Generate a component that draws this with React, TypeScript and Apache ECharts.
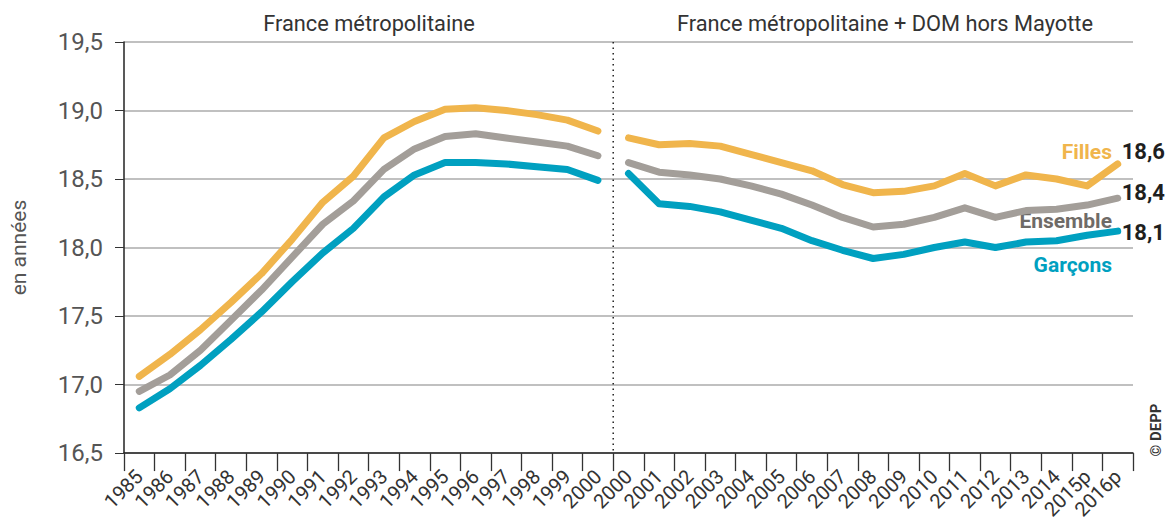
import React, { useEffect, useRef } from "react";
import * as echarts from "echarts";

const yearsMetro = ["1985","1986","1987","1988","1989","1990","1991","1992","1993","1994","1995","1996","1997","1998","1999","2000"];
const yearsDom = ["2000","2001","2002","2003","2004","2005","2006","2007","2008","2009","2010","2011","2012","2013","2014","2015p","2016p"];

const fillesMetro = [17.06,17.22,17.40,17.60,17.81,18.06,18.33,18.52,18.80,18.92,19.01,19.02,19.0,18.97,18.93,18.85];
const ensembleMetro = [16.95,17.07,17.25,17.47,17.69,17.93,18.17,18.34,18.57,18.72,18.81,18.83,18.80,18.77,18.74,18.67];
const garconsMetro = [16.83,16.97,17.14,17.33,17.53,17.75,17.96,18.14,18.37,18.53,18.62,18.62,18.61,18.59,18.57,18.49];

const fillesDom = [18.80,18.75,18.76,18.74,18.68,18.62,18.56,18.46,18.40,18.41,18.45,18.54,18.45,18.53,18.50,18.45,18.61];
const ensembleDom = [18.62,18.55,18.53,18.50,18.45,18.39,18.31,18.22,18.15,18.17,18.22,18.29,18.22,18.27,18.28,18.31,18.36];
const garconsDom = [18.54,18.32,18.30,18.26,18.20,18.14,18.05,17.98,17.92,17.95,18.00,18.04,18.00,18.04,18.05,18.09,18.12];

const yTicks = { min: 16.5, max: 19.5, interval: 0.5 };

const ORANGE = "#F0B54C";
const GRAY = "#A39E99";
const BLUE = "#00A0C0";
const FONT = "Roboto, 'Noto Sans', sans-serif";

const fmt = (v: number) => v.toFixed(1).replace(".", ",");

export default function App() {
  const ref = useRef<HTMLDivElement>(null);
  useEffect(() => {
    document.body.style.margin = "0";
    if (!ref.current) return;
    const chart = echarts.init(ref.current, null, { renderer: "svg" });
    const categories = [...yearsMetro, ...yearsDom];
    const off = yearsMetro.length;
    const mkLine = (name: string, color: string, data: number[], start: number, endLabel?: any) => ({
      name,
      type: "line",
      data: data.map((v, i) => [start + i, v]),
      symbol: "none",
      lineStyle: { color, width: 7, cap: "round", join: "round" },
      itemStyle: { color },
      z: 3,
      endLabel: endLabel
        ? {
            show: true,
            formatter: (p: any) => fmt(p.value[1]),
            color: "#1f1f1f",
            fontWeight: "bold",
            fontSize: 22,
            fontFamily: FONT,
            distance: 4,
            offset: endLabel,
          }
        : undefined,
    });
    chart.setOption({
      animation: false,
      textStyle: { fontFamily: FONT },
      grid: { left: 116, right: 33, top: 42, bottom: 63, containLabel: false },
      xAxis: {
        type: "category",
        data: categories,
        boundaryGap: true,
        axisLine: { lineStyle: { color: "#222", width: 1.5 } },
        axisTick: { show: true, length: 18, interval: 0, lineStyle: { color: "#333", width: 1.3 } },
        axisLabel: { interval: 0, rotate: 45, fontSize: 20, color: "#333", margin: 20, fontFamily: FONT },
        splitLine: { show: false },
      },
      yAxis: {
        type: "value",
        min: yTicks.min,
        max: yTicks.max,
        interval: yTicks.interval,
        name: "en années",
        nameLocation: "middle",
        nameGap: 95,
        nameTextStyle: { fontSize: 21, color: "#555", fontFamily: FONT },
        axisLine: { show: true, lineStyle: { color: "#222", width: 1.5 } },
        axisTick: { show: true, length: 9, lineStyle: { color: "#333" } },
        axisLabel: { fontSize: 24, color: "#555", margin: 21, formatter: (v: number) => fmt(v), fontFamily: FONT },
        splitLine: { show: true, lineStyle: { color: "#ababab", width: 1.5 } },
      },
      series: [
        mkLine("Filles", ORANGE, fillesMetro, 0),
        mkLine("Ensemble", GRAY, ensembleMetro, 0),
        mkLine("Garçons", BLUE, garconsMetro, 0),
        mkLine("Filles", ORANGE, fillesDom, off, [0, -12]),
        mkLine("Ensemble", GRAY, ensembleDom, off, [0, -6]),
        mkLine("Garçons", BLUE, garconsDom, off, [0, 1]),
      ],
    });
    const xa = chart.convertToPixel({ xAxisIndex: 0 }, off - 1) as number;
    const xb = chart.convertToPixel({ xAxisIndex: 0 }, off) as number;
    const sepX = (xa + xb) / 2;
    const yTop = chart.convertToPixel({ yAxisIndex: 0 }, yTicks.max) as number;
    const yBot = chart.convertToPixel({ yAxisIndex: 0 }, yTicks.min) as number;
    chart.setOption({
      graphic: [
        {
          type: "line",
          shape: { x1: sepX, y1: yTop, x2: sepX, y2: yBot },
          style: { stroke: "#222", lineWidth: 1.5, lineDash: [1.5, 4] },
          z: 10,
        },
        { type: "text", x: 369, y: 23, style: { text: "France métropolitaine", fontSize: 21.8, fill: "#333", align: "center", verticalAlign: "middle", fontFamily: FONT } },
        { type: "text", x: 885, y: 23, style: { text: "France métropolitaine + DOM hors Mayotte", fontSize: 21.8, fill: "#333", align: "center", verticalAlign: "middle", fontFamily: FONT } },
        { type: "text", x: 1112, y: 152, style: { text: "Filles", fontSize: 21, fontWeight: "bold", fill: ORANGE, align: "right", verticalAlign: "middle", fontFamily: FONT } },
        { type: "text", x: 1112, y: 221, style: { text: "Ensemble", fontSize: 21, fontWeight: "bold", fill: "#6f6b67", align: "right", verticalAlign: "middle", fontFamily: FONT } },
        { type: "text", x: 1112, y: 265, style: { text: "Garçons", fontSize: 21, fontWeight: "bold", fill: BLUE, align: "right", verticalAlign: "middle", fontFamily: FONT } },
        { type: "text", x: 1156, y: 430, rotation: Math.PI / 2, style: { text: "© DEPP", fontSize: 15, fontWeight: "bold", fill: "#333", align: "center", verticalAlign: "middle", fontFamily: FONT } },
      ],
    });
    return () => chart.dispose();
  }, []);
  return <div ref={ref} style={{ width: 1166, height: 522 }} />;
}
